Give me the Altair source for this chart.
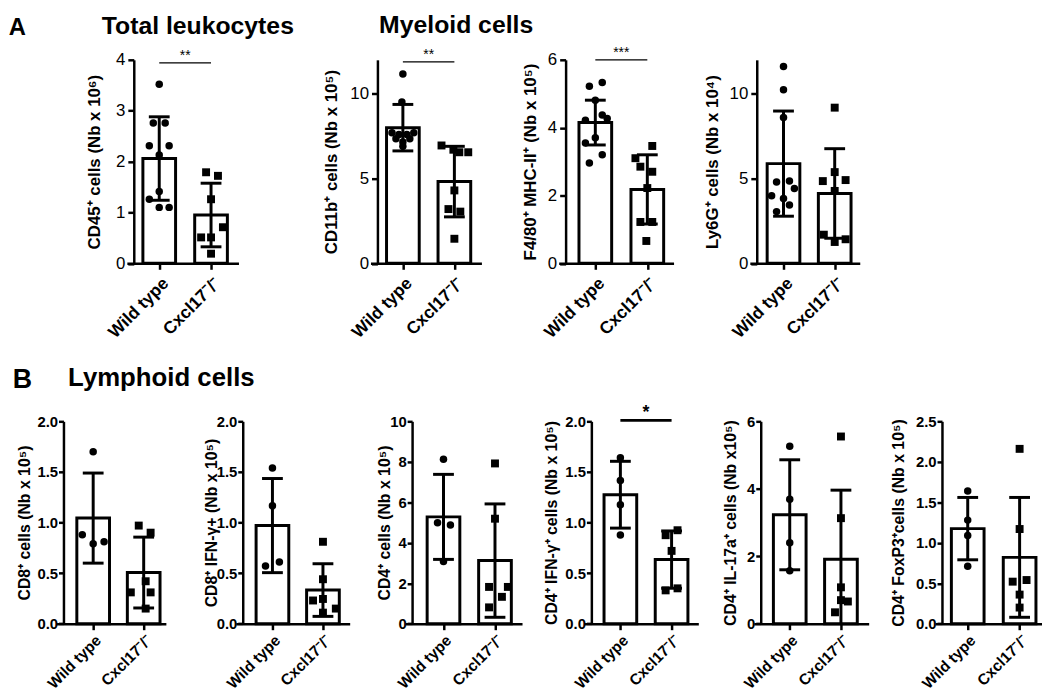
import altair as alt
import pandas as pd

FONT = "Liberation Sans"
GROUPS = ["Wild type", "Cxcl17⁻/⁻"]

# ---------------- data ----------------
# A1 Total leukocytes
a1_title = "CD45⁺ cells (Nb x 10⁶)"
a1_ymax, a1_ticks, a1_fmt = 4, [0, 1, 2, 3, 4], "d"
a1_mean = [2.06, 0.95]
a1_sd = [0.82, 0.625]
a1_wt = [3.52, 2.76, 2.76, 2.31, 2.31, 2.13, 1.41, 1.26, 1.10, 1.10]
a1_wt_jit = [0, -6, 6, -10, 10, 0, 0, -10, 0, 10]
a1_ko = [1.79, 1.72, 1.26, 0.71, 0.51, 0.51, 0.19]
a1_ko_jit = [-5, 7, 0, 12, -10, 0, 0]
a1_sig = ["**", 3.94]

# A2 CD11b
a2_title = "CD11b⁺ cells (Nb x 10⁵)"
a2_ymax, a2_ticks, a2_fmt = 12, [0, 5, 10], "d"
a2_mean = [8.0, 4.82]
a2_sd = [1.37, 2.08]
a2_wt = [11.17, 9.51, 7.7, 7.7, 7.6, 7.6, 7.35, 7.35, 7.15, 6.9]
a2_wt_jit = [0, -1, -11, 11, -4, 4, -7, 7, 0, 0]
a2_ko = [6.95, 6.7, 6.55, 6.55, 4.3, 3.2, 3.05, 1.45]
a2_ko_jit = [-13, -1, 5, 14, 0, -6, 6, 0]
a2_sig = ["**", 11.88]

# A3 F4/80 MHC-II
a3_title = "F4/80⁺ MHC-II⁺ (Nb x 10⁵)"
a3_ymax, a3_ticks, a3_fmt = 6, [0, 2, 4, 6], "d"
a3_mean = [4.15, 2.18]
a3_sd = [0.66, 1.02]
a3_wt = [5.22, 5.33, 4.81, 4.22, 4.37, 4.27, 3.70, 3.55, 3.20, 2.96]
a3_wt_jit = [-6, 7, 0, -10, 7, 12, 0, -10, 7, -6]
a3_ko = [3.10, 3.46, 2.85, 2.70, 2.22, 1.22, 1.22, 0.66]
a3_ko_jit = [-12, 5, -7, 5, 0, -7, 5, -1]
a3_sig = ["***", 6.0]

# A4 Ly6G
a4_title = "Ly6G⁺ cells (Nb x 10⁴)"
a4_ymax, a4_ticks, a4_fmt = 12, [0, 5, 10], "d"
a4_mean = [5.88, 4.12]
a4_sd = [3.1, 2.64]
a4_wt = [11.61, 10.23, 8.6, 4.8, 4.85, 4.41, 3.98, 3.83, 3.44, 3.05]
a4_wt_jit = [0, 0, 0, -7, 6, 11, -12, 0, 6, -7]
a4_ko = [9.18, 5.38, 4.85, 4.91, 4.27, 1.69, 1.26, 1.42]
a4_ko_jit = [0, 0, -12, 11, 0, -11, 0, 11]
a4_sig = None

# B1 CD8
b1_title = "CD8⁺ cells (Nb x 10⁵)"
b1_ymax, b1_ticks, b1_fmt = 2, [0, 0.5, 1, 1.5, 2], ".1f"
b1_mean = [1.044, 0.506]
b1_sd = [0.445, 0.35]
b1_wt = [1.70, 0.88, 0.79, 0.81]
b1_wt_jit = [0, -11, 0, 11]
b1_ko = [0.97, 0.90, 0.42, 0.31, 0.31, 0.15]
b1_ko_jit = [-5, 7, 2, -13, 7, 2]
b1_sig = None

# B2 CD8 IFN-g
b2_title = "CD8⁺ IFN-γ+ (Nb x 10⁵)"
b2_ymax, b2_ticks, b2_fmt = 2, [0, 0.5, 1, 1.5, 2], ".1f"
b2_mean = [0.97, 0.333]
b2_sd = [0.465, 0.26]
b2_wt = [1.54, 1.165, 0.57, 0.61]
b2_wt_jit = [0, 0, -7, 7]
b2_ko = [0.81, 0.44, 0.23, 0.245, 0.15, 0.11]
b2_ko_jit = [0, 0, -10, 0, 13, 0]
b2_sig = None

# B3 CD4
b3_title = "CD4⁺ cells (Nb x 10⁵)"
b3_ymax, b3_ticks, b3_fmt = 10, [0, 2, 4, 6, 8, 10], "d"
b3_mean = [5.28, 3.12]
b3_sd = [2.1, 2.8]
b3_wt = [8.13, 4.99, 4.88, 3.07]
b3_wt_jit = [0, -6, 7, 0]
b3_ko = [7.92, 5.19, 1.82, 1.82, 1.33, 0.81]
b3_ko_jit = [0, 0, -6, 13, 7, -6]
b3_sig = None

# B4 CD4 IFN-g
b4_title = "CD4⁺ IFN-γ⁺ cells (Nb x 10⁵)"
b4_ymax, b4_ticks, b4_fmt = 2, [0, 0.5, 1, 1.5, 2], ".1f"
b4_mean = [1.275, 0.634]
b4_sd = [0.33, 0.283]
b4_wt = [1.64, 1.415, 1.177, 0.878]
b4_wt_jit = [0, 0, 0, 0]
b4_ko = [0.875, 0.924, 0.72, 0.33, 0.35]
b4_ko_jit = [-6, 6, 0, -6, 6]
b4_sig = ["*", 2.01]

# B5 CD4 IL-17a
b5_title = "CD4⁺ IL-17a⁺ cells (Nb x10⁵)"
b5_ymax, b5_ticks, b5_fmt = 6, [0, 2, 4, 6], "d"
b5_mean = [3.23, 1.91]
b5_sd = [1.63, 2.05]
b5_wt = [5.26, 3.69, 2.40, 1.57]
b5_wt_jit = [0, 0, 0, 0]
b5_ko = [5.55, 3.13, 1.08, 0.70, 0.66, 0.34]
b5_ko_jit = [0, 0, 0, 0, 7, -6]
b5_sig = None

# B6 CD4 FoxP3
b6_title = "CD4⁺ FoxP3⁺cells (Nb x 10⁵)"
b6_ymax, b6_ticks, b6_fmt = 2.5, [0, 0.5, 1, 1.5, 2, 2.5], ".1f"
b6_mean = [1.175, 0.82]
b6_sd = [0.385, 0.74]
b6_wt = [1.64, 1.28, 1.09, 0.71]
b6_wt_jit = [0, 0, 0, 0]
b6_ko = [2.16, 1.17, 0.52, 0.54, 0.36, 0.20]
b6_ko_jit = [0, 0, -7, 7, 0, 0]
b6_sig = None

# ---------------- layout / style ----------------
AX_OFF = 7      # x-axis line starts this far left of the y axis
BAR_W = 33
CAP = 10.5
EXT = 10

ROW1 = dict(H=205.5, tpad=14.7, bpad=90, ylab_size=17, ylab_weight="normal",
            ytitle_size=17, xlab_size=17.5, xlab_pad=5, sig_w=1.3, sig_size=14,
            sig_weight="normal", sig_dy=-2.5, pt_sizes=[57, 64], ytick=6, ylabpad=3)
ROW2 = dict(H=204.4, tpad=19.8, bpad=66, ylab_size=15, ylab_weight="bold",
            ytitle_size=16, xlab_size=15.5, xlab_pad=3, sig_w=2.7, sig_size=18,
            sig_weight="bold", sig_dy=-2, pt_sizes=[64, 72], ytick=5, ylabpad=1)

# x0: WT centre from y axis, step: distance WT->KO, end: x-axis end from y axis,
# tp: title padding
lay = {
    "a1": dict(x0=25.7, step=52.3, end=105.7, tp=20.8),
    "a2": dict(x0=25.7, step=52.0, end=105.0, tp=27.2),
    "a3": dict(x0=30.0, step=52.5, end=109.0, tp=16.5),
    "a4": dict(x0=27.0, step=51.7, end=104.0, tp=26.1),
    "b1": dict(x0=30.0, step=51.0, end=103.4, tp=21.5),
    "b2": dict(x0=30.0, step=51.0, end=108.0, tp=13.5),
    "b3": dict(x0=31.7, step=52.0, end=111.0, tp=9.5),
    "b4": dict(x0=29.3, step=51.7, end=108.0, tp=22.2),
    "b5": dict(x0=29.3, step=51.7, end=109.0, tp=12.9),
    "b6": dict(x0=26.0, step=52.4, end=101.0, tp=25.5),
}
# gaps between plot areas (pixels)
ROW1_GAPS = [71, 133, 78, 76.3]          # leading gap, then between panels
ROW2_GAPS = [69.6, 55.7, 63, 55.7, 66.6]

g = globals()
one = pd.DataFrame({"a": [0]})


def panel_data(k):
    return dict(title=g[k + "_title"], ymax=g[k + "_ymax"], ticks=g[k + "_ticks"],
                fmt=g[k + "_fmt"], mean=g[k + "_mean"], sd=g[k + "_sd"],
                wt=g[k + "_wt"], wt_jit=g[k + "_wt_jit"], ko=g[k + "_ko"],
                ko_jit=g[k + "_ko_jit"], sig=g[k + "_sig"])


def make_panel(k, row):
    p = panel_data(k)
    L = lay[k]
    step, x0, end = L["step"], L["x0"], L["end"]
    Wp = end + AX_OFF
    H = row["H"]
    xs = alt.Scale(domain=[(-AX_OFF - x0) / step, (end - x0) / step],
                   nice=False, zero=False, padding=0)
    ys = alt.Scale(domain=[0, p["ymax"]], nice=False, zero=True, padding=0)
    label_expr = "datum.value == 0 ? '%s' : '%s'" % (GROUPS[0], GROUPS[1])
    xaxis = alt.Axis(values=[0, 1], labelExpr=label_expr, labelAngle=-45,
                     labelFont=FONT, labelFontSize=row["xlab_size"], labelFontWeight="bold",
                     labelColor="black", labelPadding=row["xlab_pad"], labelFlush=False,
                     labelOverlap=False, tickSize=6, tickWidth=2.5, tickColor="black",
                     domainWidth=2.5, domainColor="black", grid=False, title=None)
    yaxis = alt.Axis(values=p["ticks"], format=p["fmt"], title=p["title"],
                     titleFont=FONT, titleFontSize=row["ytitle_size"], titleFontWeight="bold",
                     titleColor="black", titlePadding=L["tp"],
                     labelFont=FONT, labelFontSize=row["ylab_size"], labelFontWeight=row["ylab_weight"],
                     labelColor="black", labelPadding=row["ylabpad"], labelFlush=False,
                     labelOverlap=False, tickSize=row["ytick"], tickWidth=2.5, tickColor="black",
                     domainWidth=2.5, domainColor="black", grid=False,
                     offset=-AX_OFF, minExtent=EXT, maxExtent=EXT)

    summ = pd.DataFrame({"pos": [0, 1], "mean": p["mean"], "sd": p["sd"]})
    summ["hi"] = summ["mean"] + summ["sd"]
    summ["lo"] = (summ["mean"] - summ["sd"]).clip(lower=0)
    summ["c0"] = summ["pos"] - CAP / step
    summ["c1"] = summ["pos"] + CAP / step
    low = summ[summ["mean"] - summ["sd"] > 0]

    pts = pd.DataFrame({
        "grp": ["WT"] * len(p["wt"]) + ["KO"] * len(p["ko"]),
        "val": p["wt"] + p["ko"],
        "xj": [0 + j / step for j in p["wt_jit"]] + [1 + j / step for j in p["ko_jit"]],
    })

    def X(f):
        return alt.X(f, scale=xs, axis=xaxis)

    def Y(f):
        return alt.Y(f, scale=ys, axis=yaxis)

    bars = alt.Chart(summ).mark_bar(width=BAR_W, fill="white", stroke="black",
                                    strokeWidth=3, orient="vertical").encode(
        x=X("pos:Q"), y=Y("mean:Q"))
    err = alt.Chart(summ).mark_rule(strokeWidth=3, color="black").encode(
        x=X("pos:Q"), y=Y("lo:Q"), y2="hi:Q")
    caphi = alt.Chart(summ).mark_rule(strokeWidth=3, color="black").encode(
        x=X("c0:Q"), x2="c1:Q", y=Y("hi:Q"))
    caplo = alt.Chart(low).mark_rule(strokeWidth=3, color="black").encode(
        x=X("c0:Q"), x2="c1:Q", y=Y("lo:Q"))
    points = alt.Chart(pts).mark_point(filled=True, opacity=1, color="black").encode(
        x=X("xj:Q"), y=Y("val:Q"),
        shape=alt.Shape("grp:N", scale=alt.Scale(domain=["WT", "KO"], range=["circle", "square"]), legend=None),
        size=alt.Size("grp:N", scale=alt.Scale(domain=["WT", "KO"], range=row["pt_sizes"]), legend=None))
    layers = [bars, err, caphi, caplo, points]
    if p["sig"] is not None:
        sdf = pd.DataFrame({"s0": [0], "s1": [1], "mid": [0.5], "sy": [p["sig"][1]], "lab": [p["sig"][0]]})
        layers.append(alt.Chart(sdf).mark_rule(strokeWidth=row["sig_w"], color="black").encode(
            x=X("s0:Q"), x2="s1:Q", y=Y("sy:Q")))
        layers.append(alt.Chart(sdf).mark_text(baseline="alphabetic", align="center", dy=row["sig_dy"],
                                               font=FONT, fontSize=row["sig_size"],
                                               fontWeight=row["sig_weight"], color="black").encode(
            x=X("mid:Q"), y=Y("sy:Q"), text="lab:N"))
    hidden = alt.Chart(one).mark_rule(opacity=0, strokeWidth=1).encode(
        x=alt.value(1), y=alt.value(-row["tpad"]), y2=alt.value(H + row["bpad"]))
    layers.append(hidden)
    return alt.layer(*layers).properties(width=Wp, height=H)


def spacer(w):
    return alt.Chart(one).mark_rule(opacity=0).encode(
        x=alt.value(0), x2=alt.value(w), y=alt.value(0)).properties(width=w, height=1)


def header(texts, h):
    layers = [alt.Chart(one).mark_rule(opacity=0).encode(
        x=alt.value(1), y=alt.value(0), y2=alt.value(h))]
    for t, x, y, fs in texts:
        layers.append(alt.Chart(one).mark_text(text=t, align="left", baseline="alphabetic",
                                               fontSize=fs, fontWeight="bold", font=FONT,
                                               color="black").encode(
            x=alt.value(x), y=alt.value(y)))
    return alt.layer(*layers).properties(width=10, height=h)


# header x positions are relative to the left edge of the first lower-row plot
head1 = header([("A", -48.3, 23.5, 24), ("Total leukocytes", 45.7, 22.5, 25),
                ("Myeloid cells", 325.7, 22, 25)], 31.5)
head2 = header([("B", -44.3, 33.8, 27), ("Lymphoid cells", 11.7, 31.8, 26)], 44.3)

r1 = [spacer(ROW1_GAPS[0])]
for i, k in enumerate(["a1", "a2", "a3", "a4"]):
    if i > 0:
        r1.append(spacer(ROW1_GAPS[i]))
    r1.append(make_panel(k, ROW1))
r2 = []
for i, k in enumerate(["b1", "b2", "b3", "b4", "b5", "b6"]):
    if i > 0:
        r2.append(spacer(ROW2_GAPS[i - 1]))
    r2.append(make_panel(k, ROW2))

row1 = alt.hconcat(*r1, spacing=0, bounds="flush")
row2 = alt.hconcat(*r2, spacing=0, bounds="flush")

chart = alt.vconcat(head1, row1, head2, row2, spacing=2).properties(
    padding=0, background="white"
).configure(font=FONT).configure_view(stroke=None)

chart.save("out.html", embed_options={"renderer": "svg", "actions": False})
